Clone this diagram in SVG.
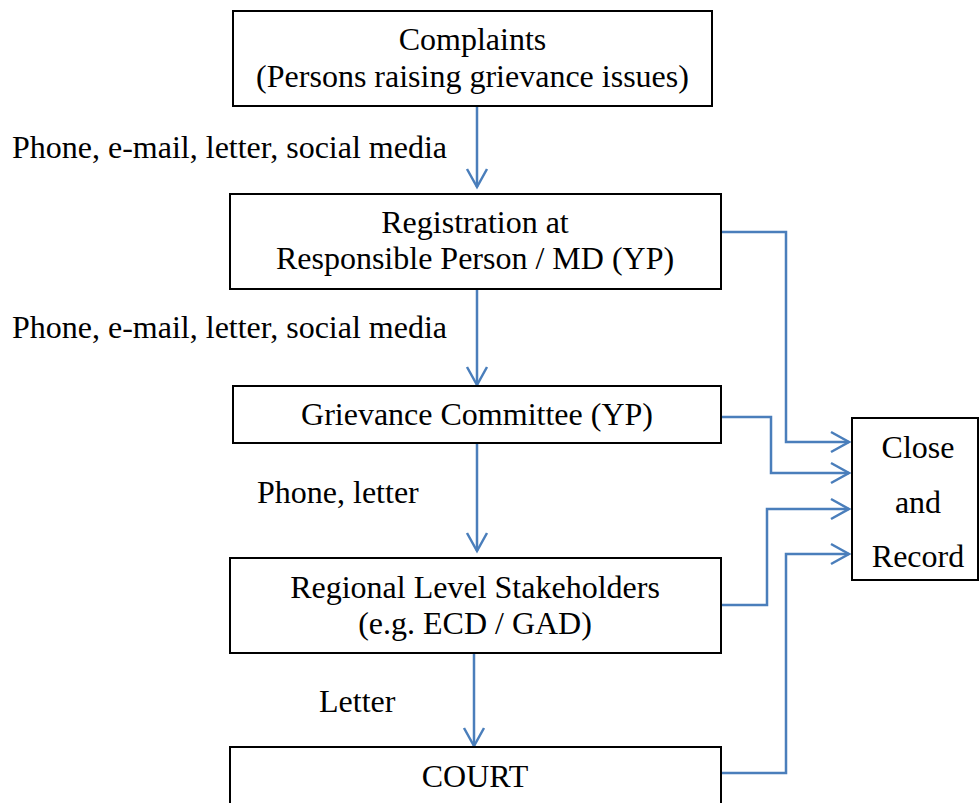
<svg xmlns="http://www.w3.org/2000/svg" width="979" height="803" viewBox="0 0 979 803">
<style>
.box{fill:#fff;stroke:#000;stroke-width:2}
.t{font-family:"Liberation Serif","Times New Roman",serif;font-size:32px;fill:#000}
.c{text-anchor:middle}
.ln{fill:none;stroke:#4A7EBB;stroke-width:2.5}
</style>
<defs>
<marker id="ah" markerUnits="userSpaceOnUse" markerWidth="30" markerHeight="30" viewBox="-25 -15 30 30" refX="0" refY="0" orient="auto">
<path d="M-18,-10 L0,0 L-18,10" fill="none" stroke="#4A7EBB" stroke-width="2.5"/>
</marker>
</defs>
<rect width="979" height="803" fill="#fff"/>
<g id="connectors">
<path class="ln" d="M477,106 V187" marker-end="url(#ah)"/>
<path class="ln" d="M477,289 V385" marker-end="url(#ah)"/>
<path class="ln" d="M477,443 V551" marker-end="url(#ah)"/>
<path class="ln" d="M474,653 V746" marker-end="url(#ah)"/>
<path class="ln" d="M721,232 H786 V442 H849" marker-end="url(#ah)"/>
<path class="ln" d="M721,417 H771 V473 H849" marker-end="url(#ah)"/>
<path class="ln" d="M721,605 H767 V509 H849" marker-end="url(#ah)"/>
<path class="ln" d="M721,773 H786 V554 H849" marker-end="url(#ah)"/>
</g>
<g id="labels">
<text class="t" x="12" y="158">Phone, e-mail, letter, social media</text>
<text class="t" x="12" y="338">Phone, e-mail, letter, social media</text>
<text class="t" x="257" y="503">Phone, letter</text>
<text class="t" x="319" y="712">Letter</text>
</g>
<g id="complaints">
<rect class="box" x="233" y="11" width="479" height="95"/>
<text class="t c" x="472.5" y="50">Complaints</text>
<text class="t c" x="472.5" y="87">(Persons raising grievance issues)</text>
</g>
<g id="registration">
<rect class="box" x="230" y="194" width="491" height="95"/>
<text class="t c" x="475" y="233">Registration at</text>
<text class="t c" x="475" y="269">Responsible Person / MD (YP)</text>
</g>
<g id="grievance">
<rect class="box" x="233" y="386" width="488" height="57"/>
<text class="t c" x="477" y="425">Grievance Committee (YP)</text>
</g>
<g id="regional">
<rect class="box" x="230" y="558" width="491" height="95"/>
<text class="t c" x="475" y="598">Regional Level Stakeholders</text>
<text class="t c" x="475" y="634">(e.g. ECD / GAD)</text>
</g>
<g id="court">
<rect class="box" x="230" y="747" width="491" height="70"/>
<text class="t c" x="475" y="787">COURT</text>
</g>
<g id="close">
<rect class="box" x="852" y="418" width="126" height="162"/>
<text class="t c" x="918" y="458">Close</text>
<text class="t c" x="918" y="513">and</text>
<text class="t c" x="918" y="567">Record</text>
</g>
</svg>
